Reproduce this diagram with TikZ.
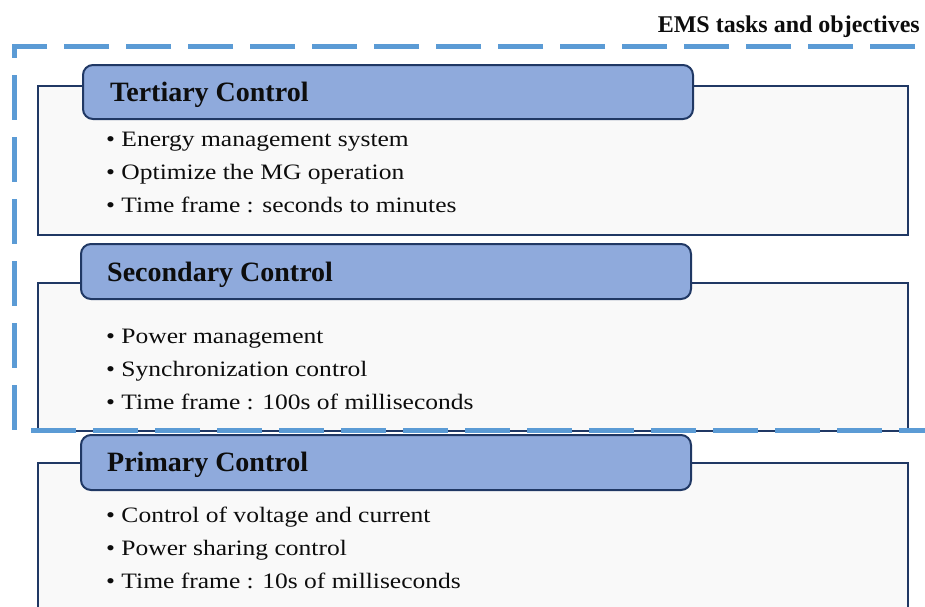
\documentclass[tikz,border=0pt]{standalone}
\usepackage{fontspec}
\setmainfont{Liberation Serif}
\newfontfamily\itemfont[FakeStretch=1.16]{Liberation Serif}
\newfontfamily\hdrfont[FakeStretch=1.0]{Liberation Serif}
\newfontfamily\titlefont[FakeStretch=1.0]{Liberation Serif}
\definecolor{navy}{HTML}{203864}
\definecolor{hdrfill}{HTML}{8FAADC}
\definecolor{bodyfill}{HTML}{F9F9F9}
\definecolor{dashblue}{HTML}{5B9BD5}
\definecolor{txt}{HTML}{0D0D0D}
\tikzset{
  bodybox/.style={draw=navy, line width=1.6pt, fill=bodyfill, anchor=north west, inner sep=0pt},
  hdrbox/.style={draw=navy, line width=2pt, fill=hdrfill, rounded corners=10pt, anchor=north west, inner sep=0pt, minimum width=610pt, minimum height=54pt},
  hdrtext/.style={anchor=base west, inner sep=0pt, text=txt, font=\hdrfont\fontsize{28}{32}\selectfont\bfseries},
  item/.style={anchor=base west, inner sep=0pt, text=txt, font=\itemfont\fontsize{22}{24}\selectfont},
  emsline/.style={draw=dashblue, line width=5pt, dash pattern=on 45pt off 17pt, dash phase=47pt}
}
\begin{document}
\begin{tikzpicture}[x=1pt,y=-1pt]
\useasboundingbox (0,0) rectangle (925,606);
\clip (0,0) rectangle (925,606);
% body boxes
\node[bodybox, minimum width=870pt, minimum height=149pt] (tbody) at (37,85) {};
\node[bodybox, minimum width=870pt, minimum height=148pt] (sbody) at (37,282) {};
\node[bodybox, minimum width=870pt, minimum height=170pt] (pbody) at (37,462) {};
% headers
\node[hdrbox] (thdr) at (82,64) {};
\node[hdrbox, minimum width=610pt, minimum height=55pt] (shdr) at (80,243) {};
\node[hdrbox, minimum width=610pt, minimum height=55pt] (phdr) at (80,434) {};
\node[hdrtext] (tt) at (110,101) {Tertiary Control};
\node[hdrtext] (st) at (107,281) {Secondary Control};
\node[hdrtext] (pt) at (107,471) {Primary Control};
% items
\node[item] (t1) at (106,146) {\textbullet\ Energy management system};
\node[item] (t2) at (106,179) {\textbullet\ Optimize the MG operation};
\node[item] (t3) at (106,212) {\textbullet\ Time frame : seconds to minutes};
\node[item] (s1) at (106,343) {\textbullet\ Power management};
\node[item] (s2) at (106,376) {\textbullet\ Synchronization control};
\node[item] (s3) at (106,409) {\textbullet\ Time frame : 100s of milliseconds};
\node[item] (p1) at (106,522) {\textbullet\ Control of voltage and current};
\node[item] (p2) at (106,555) {\textbullet\ Power sharing control};
\node[item] (p3) at (106,588) {\textbullet\ Time frame : 10s of milliseconds};
% EMS boundary
\coordinate (e1) at (930,46);
\coordinate (e2) at (14,46);
\coordinate (e3) at (14,430);
\coordinate (e4) at (930,430);
\draw[emsline] (e1) -- (e2) -- (e3) -- (e4);
\node[anchor=base east, inner sep=0pt, text=txt, font=\titlefont\fontsize{24}{28}\selectfont\bfseries] (title) at (920,32) {EMS tasks and objectives};
\end{tikzpicture}
\end{document}
